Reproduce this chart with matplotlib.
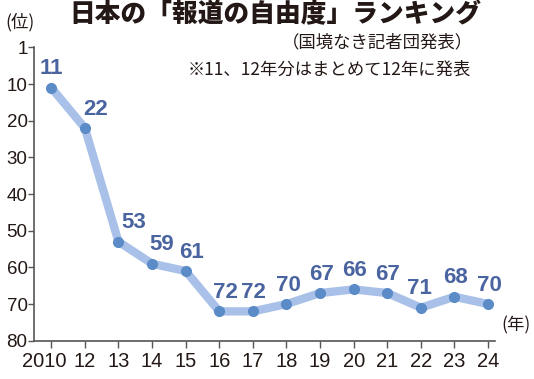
import matplotlib
matplotlib.use("Agg")
import matplotlib.pyplot as plt
from matplotlib.transforms import ScaledTranslation

years = ["2010", "12", "13", "14", "15", "16", "17", "18", "19", "20", "21", "22", "23", "24"]
ranks = [11, 22, 53, 59, 61, 72, 72, 70, 67, 66, 67, 71, 68, 70]
ytick_vals = [0, 10, 20, 30, 40, 50, 60, 70, 80]
ytick_labels = ["1", "10", "20", "30", "40", "50", "60", "70", "80"]

title = "日本の「報道の自由度」ランキング"
subtitle = "（国境なき記者団発表）"
note = "※11、12年分はまとめて12年に発表"

# label horizontal nudges (pixels) - style only
label_dx = [0, 11, 15, 10, 6, 6, 1, 2, 1, 1, 0, -1, 1, 1]

jp = "Noto Sans CJK JP"
num = ["Liberation Sans", "DejaVu Sans"]

fig = plt.figure(figsize=(5.34, 3.79), dpi=100)
ax = fig.add_axes([0.0646, 0.101, 0.862, 0.774])

x = list(range(len(years)))
ax.plot(x, ranks, color="#a9c1e8", lw=6, solid_capstyle="round", zorder=2)
ax.plot(x, ranks, ls="none", marker="o", ms=7, color="#5b8cc8", zorder=3)

for xi, r, dx in zip(x, ranks, label_dx):
    ax.annotate(str(r), (xi, r), xytext=(dx * 0.72, 6), textcoords="offset points",
                ha="center", va="bottom", fontsize=16, fontweight="bold",
                color="#4a64a0", family=num, zorder=4)

ax.set_ylim(80, 0)
ax.set_xlim(-0.5, 13.2)
ax.set_yticks(ytick_vals)
ax.set_yticklabels(ytick_labels, fontsize=13.5, family=num, color="#231815")
ax.set_xticks(x)
ax.set_xticklabels(years, fontsize=14.5, family=num, color="#231815")
ax.tick_params(axis="y", direction="out", length=4, width=1, color="#555555", pad=1)
ax.tick_params(axis="x", direction="out", length=5, width=1, color="#555555", pad=3)
first = ax.get_xticklabels()[0]
first.set_transform(first.get_transform() + ScaledTranslation(-7 / 100, 0, fig.dpi_scale_trans))
for s in ["top", "right"]:
    ax.spines[s].set_visible(False)
for s in ["left", "bottom"]:
    ax.spines[s].set_color("#555555")
    ax.spines[s].set_linewidth(1.2)

fig.text(0.515, 0.962, title, ha="center", va="center", fontsize=18.5, fontweight="heavy",
         family=[jp, "DejaVu Sans"], color="#231815")
fig.text(0.886, 0.889, subtitle, ha="right", va="center", fontsize=12.5,
         family=[jp, "DejaVu Sans"], color="#231815")
fig.text(0.882, 0.815, note, ha="right", va="center", fontsize=12.5,
         family=[jp, "DejaVu Sans"], color="#231815")
fig.text(0.037, 0.942, "(位)", ha="center", va="center", fontsize=12.5,
         family=[jp, "DejaVu Sans"], color="#231815")
fig.text(0.966, 0.142, "(年)", ha="center", va="center", fontsize=12.5,
         family=[jp, "DejaVu Sans"], color="#231815")

fig.savefig("out.png", dpi=100)
